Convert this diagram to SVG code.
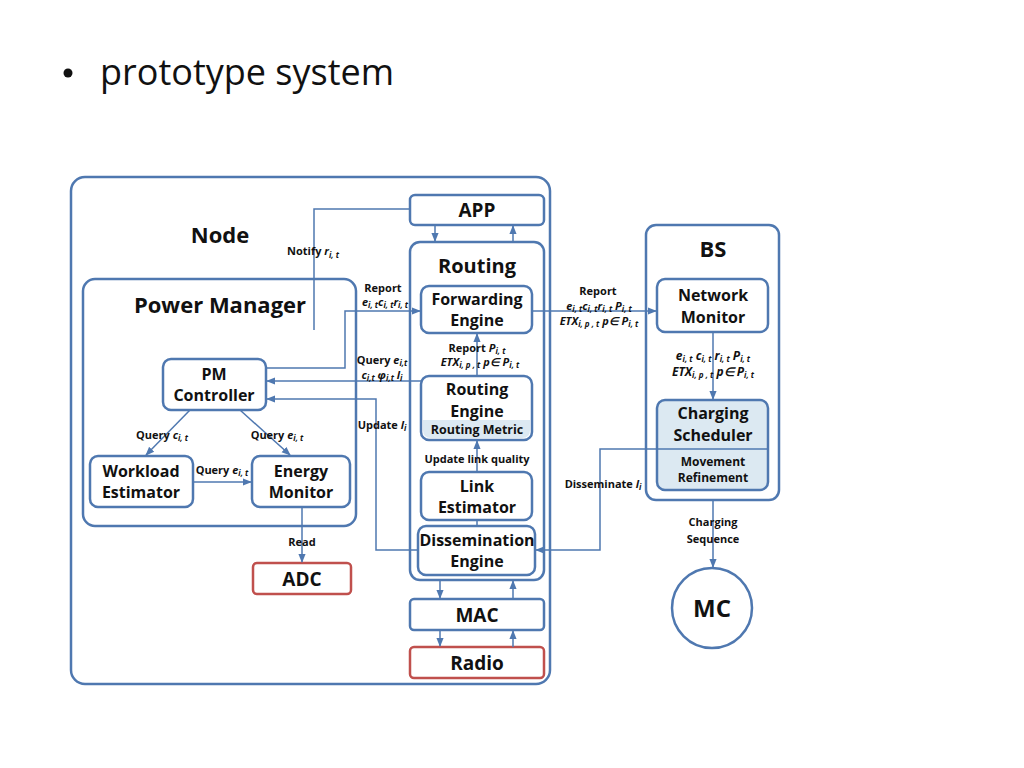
<svg xmlns="http://www.w3.org/2000/svg" width="1024" height="768" viewBox="0 0 1024 768">
<style>
.b{fill:#fff;stroke:#4f78b0;stroke-width:2.5}
.r{fill:#fff;stroke:#c0504d;stroke-width:2.5}
.s{fill:#dce9f2;stroke:#4f78b0;stroke-width:2.5}
.c{fill:none;stroke:#4f78b0;stroke-width:1.5}
text{font-family:"Open Sans","Liberation Sans",sans-serif;fill:#111;font-weight:bold;text-anchor:middle}
.t{font-size:16px}
.l{font-size:11px}
.h{font-size:22px}
i{font-style:italic}
.v{font-style:italic}
.u{font-size:8px;font-style:italic}
</style>
<defs><marker id="a" viewBox="0 0 10 10" refX="9" refY="5" markerWidth="6" markerHeight="6" orient="auto"><path d="M0,1 L10,5 L0,9z" fill="#4f78b0"/></marker></defs>
<text x="100" y="85" style="font-size:36px;font-weight:normal;text-anchor:start;font-family:'Open Sans','Liberation Sans',sans-serif">prototype system</text>
<circle cx="68" cy="73" r="4.5" fill="#111"/>
<g id="node"><rect class="b" x="71" y="177" width="479" height="507" rx="14"/><text class="h" x="220" y="243">Node</text></g>
<g id="pm"><rect class="b" x="83" y="279" width="273" height="247" rx="12"/><text class="h" x="220" y="313">Power Manager</text></g>
<g id="routing"><rect class="b" x="410" y="242" width="134" height="338" rx="10"/><text x="477" y="273" style="font-size:20px">Routing</text></g>
<g id="bs"><rect class="b" x="646" y="225" width="133" height="275" rx="10"/><text x="713" y="257" style="font-size:22px">BS</text></g>
<g id="app"><rect class="b" x="410" y="195" width="134" height="30" rx="5"/><text x="477" y="217" style="font-size:19px">APP</text></g>
<g id="fwd"><rect class="b" x="421" y="286" width="111" height="47" rx="8"/><text class="t" x="477" y="305">Forwarding</text><text class="t" x="477" y="326">Engine</text></g>
<g id="re"><rect class="b" x="421" y="376" width="111" height="64" rx="8"/><path d="M423,420 H530 V430 Q530,438 522,438 H431 Q423,438 423,430z" fill="#dce9f2"/><text class="t" x="477" y="395">Routing</text><text class="t" x="477" y="417">Engine</text><text x="477" y="434" style="font-size:12.5px">Routing Metric</text></g>
<g id="le"><rect class="b" x="421" y="472" width="111" height="48" rx="8"/><text class="t" x="477" y="492">Link</text><text class="t" x="477" y="513">Estimator</text></g>
<g id="de"><rect class="b" x="418" y="526" width="117" height="49" rx="8"/><text class="t" x="477" y="546">Dissemination</text><text class="t" x="477" y="567">Engine</text></g>
<g id="mac"><rect class="b" x="410" y="599" width="134" height="31" rx="4"/><text x="477" y="622" style="font-size:19px">MAC</text></g>
<g id="radio"><rect class="r" x="410" y="647" width="134" height="31" rx="4"/><text x="477" y="670" style="font-size:19px">Radio</text></g>
<g id="pmc"><rect class="b" x="163" y="359" width="103" height="51" rx="8"/><text class="t" x="214" y="380">PM</text><text class="t" x="214" y="401">Controller</text></g>
<g id="we"><rect class="b" x="90" y="456" width="103" height="51" rx="8"/><text class="t" x="141" y="477">Workload</text><text class="t" x="141" y="498">Estimator</text></g>
<g id="em"><rect class="b" x="252" y="456" width="98" height="51" rx="8"/><text class="t" x="301" y="477">Energy</text><text class="t" x="301" y="498">Monitor</text></g>
<g id="adc"><rect class="r" x="253" y="563" width="98" height="31" rx="4"/><text x="302" y="586" style="font-size:19px">ADC</text></g>
<g id="nm"><rect class="b" x="657" y="279" width="111" height="53" rx="8"/><text class="t" x="713" y="301">Network</text><text class="t" x="713" y="323">Monitor</text></g>
<g id="cs"><rect class="s" x="657" y="400" width="111" height="90" rx="8"/><line x1="657" y1="449" x2="768" y2="449" stroke="#4f78b0" stroke-width="1.5"/><text class="t" x="713" y="419">Charging</text><text class="t" x="713" y="441">Scheduler</text><text class="l" x="713" y="466" style="font-size:12px">Movement</text><text class="l" x="713" y="482" style="font-size:12px">Refinement</text></g>
<g id="mc"><circle cx="712" cy="608" r="40" fill="#fff" stroke="#4f78b0" stroke-width="2.5"/><text x="712" y="617" style="font-size:24px">MC</text></g>
<g id="connectors">
<polyline class="c" points="410,209 314,209 314,330"/>
<line class="c" x1="435" y1="225" x2="435" y2="241" marker-end="url(#a)"/>
<line class="c" x1="513" y1="242" x2="513" y2="226" marker-end="url(#a)"/>
<polyline class="c" points="266,368 345,368 345,311 420,311" marker-end="url(#a)"/>
<line class="c" x1="421" y1="381" x2="267" y2="381" marker-end="url(#a)"/>
<polyline class="c" points="418,550 376,550 376,399 267,399" marker-end="url(#a)"/>
<line class="c" x1="532" y1="311" x2="656" y2="311" marker-end="url(#a)"/>
<line class="c" x1="477" y1="376" x2="477" y2="334" marker-end="url(#a)"/>
<line class="c" x1="477" y1="472" x2="477" y2="441" marker-end="url(#a)"/>
<line class="c" x1="477" y1="520" x2="477" y2="526"/>
<line class="c" x1="713" y1="332" x2="713" y2="399" marker-end="url(#a)"/>
<polyline class="c" points="657,449 600,449 600,550 536,550" marker-end="url(#a)"/>
<line class="c" x1="713" y1="500" x2="713" y2="567" marker-end="url(#a)"/>
<line class="c" x1="440" y1="580" x2="440" y2="598" marker-end="url(#a)"/>
<line class="c" x1="513" y1="599" x2="513" y2="581" marker-end="url(#a)"/>
<line class="c" x1="440" y1="630" x2="440" y2="646" marker-end="url(#a)"/>
<line class="c" x1="513" y1="647" x2="513" y2="631" marker-end="url(#a)"/>
<line class="c" x1="190" y1="410" x2="146" y2="455" marker-end="url(#a)"/>
<line class="c" x1="240" y1="410" x2="290" y2="455" marker-end="url(#a)"/>
<line class="c" x1="193" y1="482" x2="251" y2="482" marker-end="url(#a)"/>
<line class="c" x1="302" y1="507" x2="302" y2="562" marker-end="url(#a)"/>
</g>
<g id="labels">
<text class="l" x="313" y="255">Notify <tspan class="v">r</tspan><tspan class="u" dy="3">i, t</tspan></text>
<text class="l" x="383" y="292">Report</text>
<text class="l" x="385" y="306"><tspan class="v">e</tspan><tspan class="u" dy="2">i, t</tspan><tspan class="v" dy="-2">c</tspan><tspan class="u" dy="2">i, t</tspan><tspan class="v" dy="-2">r</tspan><tspan class="u" dy="2">i, t</tspan></text>
<text class="l" x="382" y="364">Query <tspan class="v">e</tspan><tspan class="u" dy="2">i,t</tspan></text>
<text class="l" x="382" y="379"><tspan class="v">c</tspan><tspan class="u" dy="2">i,t</tspan><tspan class="v" dy="-2"> φ</tspan><tspan class="u" dy="2">i,t</tspan><tspan class="v" dy="-2"> l</tspan><tspan class="u" dy="2">i</tspan></text>
<text class="l" x="382" y="429">Update <tspan class="v">l</tspan><tspan class="u" dy="2">i</tspan></text>
<text class="l" x="477" y="352">Report <tspan class="v">P</tspan><tspan class="u" dy="2">i, t</tspan></text>
<text class="l" x="480" y="366"><tspan class="v">ETX</tspan><tspan class="u" dy="2">i, p , t</tspan><tspan class="v" dy="-2">  p∈ P</tspan><tspan class="u" dy="2">i, t</tspan></text>
<text class="l" x="477" y="463">Update link quality</text>
<text class="l" x="598" y="295">Report</text>
<text class="l" x="599" y="310"><tspan class="v">e</tspan><tspan class="u" dy="2">i, t</tspan><tspan class="v" dy="-2">c</tspan><tspan class="u" dy="2">i, t</tspan><tspan class="v" dy="-2">r</tspan><tspan class="u" dy="2">i, t</tspan><tspan class="v" dy="-2"> P</tspan><tspan class="u" dy="2">i, t</tspan></text>
<text class="l" x="599" y="325"><tspan class="v">ETX</tspan><tspan class="u" dy="2">i, p , t</tspan><tspan class="v" dy="-2"> p∈ P</tspan><tspan class="u" dy="2">i, t</tspan></text>
<text class="l" x="713" y="360" style="font-size:12px"><tspan class="v">e</tspan><tspan class="u" dy="2">i, t</tspan><tspan class="v" dy="-2"> c</tspan><tspan class="u" dy="2">i, t</tspan><tspan class="v" dy="-2"> r</tspan><tspan class="u" dy="2">i, t</tspan><tspan class="v" dy="-2"> P</tspan><tspan class="u" dy="2">i, t</tspan></text>
<text class="l" x="713" y="376" style="font-size:12px"><tspan class="v">ETX</tspan><tspan class="u" dy="2">i, p , t</tspan><tspan class="v" dy="-2">  p∈ P</tspan><tspan class="u" dy="2">i, t</tspan></text>
<text class="l" x="603" y="488">Disseminate <tspan class="v">l</tspan><tspan class="u" dy="2">i</tspan></text>
<text class="l" x="713" y="526">Charging</text>
<text class="l" x="713" y="543">Sequence</text>
<text class="l" x="162" y="439">Query <tspan class="v">c</tspan><tspan class="u" dy="2">i, t</tspan></text>
<text class="l" x="277" y="439">Query <tspan class="v">e</tspan><tspan class="u" dy="2">i, t</tspan></text>
<text class="l" x="222" y="474">Query <tspan class="v">e</tspan><tspan class="u" dy="2">i, t</tspan></text>
<text class="l" x="302" y="546">Read</text>
</g>
</svg>
